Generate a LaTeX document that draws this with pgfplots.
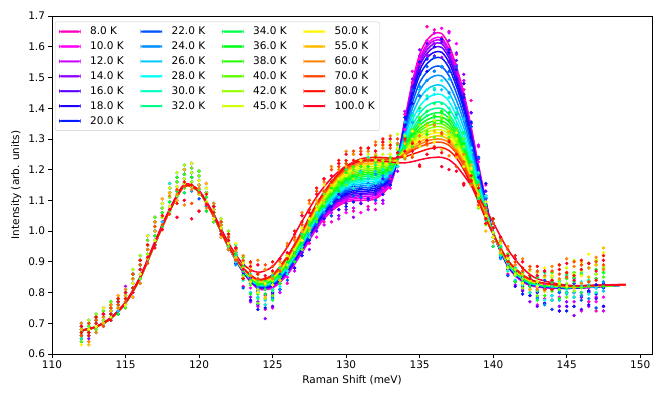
\documentclass[border=0pt]{standalone}
\usepackage{fontspec}
\setmainfont{DejaVu Sans}
\usepackage{pgfplots}
\usepackage{pgfplotstable}
\pgfplotsset{compat=1.18}

% reversed gist_rainbow, one colour per temperature
\definecolor{c8}{rgb}{1,0,0.75}
\definecolor{c10}{rgb}{1,0,0.977}
\definecolor{c12}{rgb}{0.797,0,1}
\definecolor{c14}{rgb}{0.571,0,1}
\definecolor{c16}{rgb}{0.344,0,1}
\definecolor{c18}{rgb}{0.118,0,1}
\definecolor{c20}{rgb}{0,0.109,1}
\definecolor{c22}{rgb}{0,0.335,1}
\definecolor{c24}{rgb}{0,0.562,1}
\definecolor{c26}{rgb}{0,0.788,1}
\definecolor{c28}{rgb}{0,1,0.986}
\definecolor{c30}{rgb}{0,1,0.762}
\definecolor{c32}{rgb}{0,1,0.538}
\definecolor{c34}{rgb}{0,1,0.314}
\definecolor{c36}{rgb}{0,1,0.090}
\definecolor{c38}{rgb}{0.135,1,0}
\definecolor{c40}{rgb}{0.360,1,0}
\definecolor{c42}{rgb}{0.583,1,0}
\definecolor{c45}{rgb}{0.811,1,0}
\definecolor{c50}{rgb}{1,0.964,0}
\definecolor{c55}{rgb}{1,0.739,0}
\definecolor{c60}{rgb}{1,0.514,0}
\definecolor{c70}{rgb}{1,0.288,0}
\definecolor{c80}{rgb}{1,0.063,0}
\definecolor{c100}{rgb}{1,0,0.16}

% fitted curves
\pgfplotstableread{
x T8 T10 T12 T14 T16 T18 T20 T22 T24 T26 T28 T30 T32 T34 T36 T38 T40 T42 T45 T50 T55 T60 T70 T80 T100
112 0.676 0.676 0.676 0.676 0.676 0.676 0.676 0.676 0.676 0.676 0.676 0.676 0.676 0.676 0.676 0.676 0.676 0.676 0.676 0.676 0.676 0.676 0.676 0.676 0.678
113 0.688 0.688 0.688 0.688 0.688 0.688 0.688 0.688 0.688 0.688 0.688 0.688 0.688 0.688 0.688 0.688 0.688 0.688 0.688 0.688 0.688 0.688 0.688 0.688 0.690
114 0.716 0.716 0.716 0.716 0.716 0.716 0.716 0.716 0.716 0.716 0.716 0.716 0.716 0.716 0.716 0.716 0.716 0.716 0.716 0.716 0.716 0.716 0.716 0.716 0.719
115 0.766 0.766 0.766 0.766 0.766 0.766 0.766 0.766 0.766 0.766 0.766 0.766 0.766 0.766 0.766 0.766 0.766 0.766 0.766 0.766 0.766 0.766 0.766 0.766 0.770
116 0.848 0.848 0.848 0.848 0.848 0.848 0.848 0.848 0.848 0.848 0.848 0.848 0.848 0.848 0.848 0.848 0.848 0.848 0.848 0.848 0.848 0.848 0.848 0.848 0.853
117 0.960 0.960 0.960 0.960 0.960 0.960 0.960 0.960 0.960 0.960 0.960 0.960 0.960 0.960 0.960 0.960 0.960 0.960 0.960 0.960 0.960 0.960 0.960 0.960 0.967
118 1.066 1.066 1.066 1.066 1.066 1.066 1.066 1.066 1.066 1.066 1.066 1.066 1.066 1.066 1.066 1.066 1.066 1.066 1.066 1.066 1.066 1.066 1.066 1.066 1.072
119 1.146 1.146 1.146 1.146 1.146 1.146 1.146 1.146 1.146 1.146 1.146 1.146 1.146 1.146 1.146 1.146 1.146 1.146 1.146 1.146 1.146 1.146 1.146 1.146 1.152
120 1.128 1.128 1.128 1.128 1.128 1.128 1.128 1.128 1.128 1.128 1.128 1.128 1.128 1.128 1.128 1.128 1.128 1.128 1.128 1.128 1.128 1.128 1.128 1.128 1.132
121 1.048 1.048 1.048 1.048 1.048 1.048 1.048 1.048 1.048 1.048 1.048 1.048 1.048 1.048 1.048 1.048 1.048 1.048 1.048 1.048 1.048 1.048 1.048 1.048 1.055
122 0.948 0.950 0.950 0.950 0.950 0.950 0.950 0.950 0.950 0.950 0.950 0.950 0.950 0.950 0.950 0.950 0.950 0.950 0.950 0.950 0.950 0.950 0.950 0.950 0.962
123 0.866 0.867 0.867 0.868 0.868 0.869 0.870 0.870 0.871 0.871 0.872 0.873 0.873 0.874 0.875 0.875 0.876 0.876 0.877 0.878 0.878 0.879 0.879 0.880 0.892
124 0.813 0.814 0.816 0.817 0.818 0.820 0.821 0.822 0.823 0.825 0.826 0.827 0.829 0.830 0.831 0.833 0.834 0.835 0.836 0.838 0.839 0.840 0.842 0.843 0.866
125 0.815 0.817 0.819 0.821 0.822 0.824 0.826 0.828 0.830 0.832 0.834 0.836 0.837 0.839 0.841 0.843 0.845 0.847 0.849 0.851 0.852 0.854 0.856 0.858 0.885
126 0.858 0.861 0.863 0.866 0.868 0.871 0.874 0.876 0.879 0.881 0.884 0.887 0.889 0.892 0.895 0.897 0.900 0.902 0.905 0.908 0.910 0.913 0.915 0.918 0.948
127 0.930 0.933 0.936 0.939 0.942 0.945 0.948 0.951 0.954 0.957 0.960 0.963 0.967 0.970 0.973 0.976 0.979 0.982 0.985 0.988 0.991 0.994 0.997 1.000 1.032
128 1.008 1.012 1.015 1.019 1.022 1.026 1.029 1.033 1.037 1.040 1.044 1.047 1.051 1.054 1.058 1.061 1.065 1.069 1.072 1.076 1.079 1.083 1.086 1.090 1.112
129 1.065 1.069 1.073 1.077 1.082 1.086 1.090 1.094 1.098 1.102 1.106 1.110 1.115 1.119 1.123 1.127 1.131 1.135 1.139 1.143 1.148 1.152 1.156 1.160 1.172
130 1.095 1.100 1.105 1.110 1.115 1.120 1.125 1.130 1.135 1.140 1.145 1.150 1.155 1.160 1.165 1.170 1.175 1.180 1.185 1.190 1.195 1.200 1.205 1.210 1.212
131 1.100 1.106 1.112 1.118 1.123 1.129 1.135 1.141 1.147 1.153 1.159 1.165 1.170 1.176 1.182 1.188 1.194 1.200 1.206 1.212 1.217 1.223 1.229 1.235 1.228
132 1.105 1.111 1.117 1.123 1.128 1.134 1.140 1.146 1.152 1.158 1.164 1.170 1.175 1.181 1.187 1.193 1.199 1.205 1.211 1.217 1.222 1.228 1.234 1.240 1.230
133 1.150 1.154 1.158 1.161 1.165 1.169 1.173 1.177 1.181 1.184 1.188 1.192 1.196 1.200 1.204 1.207 1.211 1.215 1.219 1.223 1.227 1.230 1.234 1.238 1.225
133.5 1.235 1.235 1.235 1.235 1.235 1.235 1.235 1.236 1.236 1.236 1.236 1.236 1.236 1.237 1.237 1.237 1.237 1.237 1.237 1.237 1.238 1.238 1.238 1.238 1.222
134 1.365 1.360 1.357 1.354 1.350 1.345 1.338 1.329 1.319 1.309 1.299 1.291 1.284 1.280 1.275 1.271 1.268 1.265 1.261 1.258 1.255 1.251 1.248 1.242 1.222
134.5 1.485 1.476 1.470 1.464 1.457 1.446 1.434 1.417 1.398 1.379 1.360 1.344 1.331 1.322 1.313 1.306 1.299 1.293 1.287 1.280 1.274 1.268 1.262 1.250 1.226
135 1.575 1.562 1.555 1.547 1.537 1.523 1.507 1.483 1.457 1.431 1.406 1.384 1.367 1.355 1.344 1.333 1.325 1.316 1.307 1.299 1.290 1.282 1.274 1.258 1.232
135.5 1.622 1.608 1.600 1.590 1.579 1.564 1.545 1.518 1.490 1.461 1.432 1.408 1.389 1.375 1.362 1.350 1.341 1.331 1.322 1.312 1.302 1.293 1.283 1.266 1.237
136 1.643 1.628 1.620 1.610 1.598 1.582 1.563 1.535 1.505 1.474 1.444 1.419 1.399 1.384 1.371 1.359 1.349 1.339 1.329 1.319 1.309 1.299 1.289 1.271 1.240
136.5 1.643 1.628 1.620 1.610 1.598 1.582 1.563 1.535 1.505 1.474 1.444 1.419 1.399 1.384 1.371 1.359 1.349 1.339 1.329 1.319 1.309 1.299 1.289 1.272 1.240
137 1.605 1.591 1.584 1.574 1.563 1.549 1.531 1.505 1.477 1.450 1.422 1.399 1.380 1.367 1.355 1.343 1.334 1.325 1.316 1.306 1.297 1.288 1.279 1.262 1.232
137.5 1.535 1.523 1.517 1.509 1.499 1.486 1.471 1.449 1.425 1.400 1.376 1.357 1.340 1.329 1.318 1.308 1.300 1.292 1.284 1.276 1.268 1.260 1.253 1.238 1.212
138 1.450 1.440 1.435 1.428 1.420 1.409 1.396 1.377 1.357 1.337 1.317 1.300 1.286 1.276 1.268 1.259 1.253 1.246 1.239 1.232 1.226 1.219 1.212 1.200 1.182
138.5 1.340 1.332 1.328 1.323 1.317 1.309 1.299 1.285 1.269 1.254 1.239 1.226 1.216 1.208 1.201 1.195 1.190 1.185 1.180 1.175 1.169 1.164 1.159 1.150 1.148
139 1.215 1.210 1.208 1.204 1.200 1.195 1.189 1.180 1.170 1.161 1.151 1.143 1.136 1.132 1.127 1.123 1.120 1.117 1.114 1.110 1.107 1.104 1.101 1.095 1.112
139.5 1.100 1.098 1.096 1.095 1.093 1.090 1.087 1.083 1.078 1.073 1.068 1.064 1.061 1.058 1.056 1.054 1.053 1.051 1.049 1.048 1.046 1.045 1.043 1.040 1.070
140 0.995 0.994 0.994 0.994 0.994 0.994 0.994 0.993 0.993 0.993 0.993 0.993 0.993 0.993 0.993 0.993 0.993 0.991 0.991 0.991 0.991 0.991 0.990 0.990 1.028
141 0.885 0.886 0.887 0.888 0.888 0.889 0.890 0.891 0.892 0.893 0.894 0.895 0.895 0.896 0.897 0.898 0.899 0.900 0.901 0.902 0.902 0.903 0.904 0.905 0.940
142 0.835 0.836 0.837 0.838 0.839 0.840 0.841 0.842 0.843 0.844 0.845 0.846 0.847 0.848 0.849 0.850 0.851 0.852 0.853 0.854 0.855 0.856 0.857 0.858 0.880
143 0.818 0.819 0.819 0.820 0.821 0.822 0.822 0.823 0.824 0.825 0.825 0.826 0.827 0.828 0.828 0.829 0.830 0.831 0.831 0.832 0.833 0.834 0.834 0.835 0.845
145 0.813 0.814 0.814 0.814 0.815 0.815 0.815 0.816 0.816 0.817 0.817 0.818 0.818 0.818 0.818 0.819 0.819 0.820 0.820 0.821 0.821 0.821 0.822 0.822 0.824
147 0.818 0.819 0.819 0.819 0.819 0.819 0.819 0.820 0.820 0.820 0.820 0.821 0.821 0.821 0.821 0.821 0.821 0.822 0.822 0.822 0.823 0.823 0.823 0.823 0.824
149 0.825 0.825 0.825 0.825 0.825 0.825 0.825 0.825 0.825 0.825 0.825 0.825 0.825 0.825 0.825 0.825 0.825 0.825 0.825 0.825 0.825 0.825 0.825 0.825 0.827
}\fitdata

% measured points
\pgfplotstableread{
x T8 T10 T12 T14 T16 T18 T20 T22 T24 T26 T28 T30 T32 T34 T36 T38 T40 T42 T45 T50 T55 T60 T70 T80 T100
112.0 0.69 0.66 0.70 0.67 0.65 0.68 0.64 0.69 0.68 0.66 0.67 0.70 0.65 0.69 0.66 0.68 0.64 0.67 0.69 0.63 0.68 0.70 0.66 0.67 0.69
112.5 0.67 0.70 0.68 0.65 0.69 0.71 0.66 0.68 0.70 0.67 0.71 0.66 0.69 0.68 0.67 0.70 0.69 0.66 0.71 0.68 0.63 0.64 0.70 0.67 0.66
113.0 0.71 0.68 0.72 0.71 0.67 0.70 0.72 0.69 0.68 0.73 0.71 0.70 0.69 0.67 0.72 0.71 0.68 0.73 0.70 0.69 0.72 0.67 0.71 0.72 0.70
113.5 0.72 0.75 0.71 0.74 0.73 0.70 0.73 0.75 0.69 0.72 0.70 0.73 0.75 0.71 0.72 0.70 0.74 0.71 0.73 0.75 0.70 0.72 0.69 0.73 0.73
114.0 0.72 0.74 0.75 0.77 0.73 0.76 0.74 0.71 0.75 0.76 0.73 0.72 0.74 0.77 0.75 0.73 0.77 0.76 0.72 0.75 0.74 0.76 0.75 0.71 0.73
114.5 0.79 0.77 0.74 0.75 0.78 0.73 0.77 0.77 0.76 0.74 0.78 0.78 0.75 0.77 0.73 0.76 0.75 0.77 0.75 0.78 0.79 0.75 0.76 0.78 0.77
115.0 0.80 0.77 0.82 0.78 0.76 0.79 0.75 0.80 0.79 0.77 0.78 0.81 0.76 0.80 0.77 0.79 0.75 0.78 0.80 0.76 0.79 0.81 0.77 0.78 0.80
115.5 0.815 0.86 0.83 0.785 0.845 0.875 0.80 0.83 0.86 0.815 0.875 0.80 0.845 0.83 0.815 0.86 0.845 0.80 0.875 0.83 0.785 0.845 0.86 0.815 0.80
116.0 0.89 0.845 0.905 0.89 0.83 0.875 0.905 0.86 0.845 0.92 0.89 0.875 0.86 0.83 0.905 0.89 0.845 0.92 0.875 0.86 0.905 0.83 0.89 0.905 0.875
116.5 0.94 0.985 0.925 0.97 0.955 0.91 0.955 0.985 0.895 0.94 0.91 0.955 0.985 0.925 0.94 0.91 0.97 0.925 0.955 0.985 0.91 0.94 0.895 0.955 0.915
117.0 0.97 1.00 1.015 1.045 0.985 1.03 1.00 0.955 1.015 1.03 0.985 0.97 1.00 1.045 1.015 0.985 1.045 1.03 0.97 1.015 1.00 1.03 1.015 0.955 0.945
117.5 1.105 1.075 1.03 1.045 1.09 1.015 1.075 1.075 1.06 1.03 1.09 1.09 1.045 1.075 1.015 1.06 1.045 1.075 1.045 1.09 1.105 1.005 1.02 1.05 1.005
118.0 1.14 1.095 1.155 1.11 1.08 1.125 1.065 1.14 1.125 1.095 1.11 1.155 1.08 1.14 1.095 1.125 1.065 1.11 1.14 1.08 1.125 1.115 1.055 1.07 1.07
118.5 1.13 1.175 1.145 1.10 1.16 1.19 1.115 1.145 1.175 1.13 1.19 1.115 1.16 1.145 1.13 1.175 1.16 1.115 1.19 1.145 1.10 1.12 1.135 1.09 1.045
119.0 1.185 1.14 1.20 1.185 1.125 1.17 1.20 1.155 1.14 1.215 1.185 1.17 1.155 1.125 1.20 1.185 1.14 1.215 1.17 1.155 1.20 1.085 1.145 1.16 1.10
119.5 1.175 1.22 1.16 1.205 1.19 1.145 1.19 1.22 1.13 1.175 1.145 1.19 1.22 1.16 1.175 1.145 1.205 1.16 1.19 1.22 1.145 1.135 1.09 1.15 1.04
120.0 1.12 1.15 1.165 1.195 1.135 1.18 1.15 1.105 1.165 1.18 1.135 1.12 1.15 1.195 1.165 1.135 1.195 1.18 1.12 1.165 1.15 1.14 1.125 1.065 1.065
120.5 1.155 1.125 1.08 1.095 1.14 1.065 1.125 1.125 1.11 1.08 1.14 1.14 1.095 1.125 1.065 1.11 1.095 1.125 1.095 1.14 1.155 1.075 1.09 1.12 1.085
121.0 1.08 1.05 1.09 1.06 1.04 1.07 1.03 1.08 1.07 1.05 1.06 1.09 1.04 1.08 1.05 1.07 1.03 1.06 1.08 1.04 1.07 1.09 1.05 1.06 1.08
121.5 1.00 1.03 1.01 0.98 1.02 1.04 0.99 1.01 1.03 1.00 1.04 0.99 1.02 1.01 1.00 1.03 1.02 0.99 1.04 1.01 0.98 1.02 1.03 1.00 0.99
122.0 0.98 0.95 0.99 0.98 0.94 0.97 0.99 0.96 0.95 1.00 0.98 0.97 0.96 0.94 0.99 0.98 0.95 1.00 0.97 0.96 0.99 0.94 0.98 0.99 0.97
122.5 0.91 0.94 0.90 0.93 0.925 0.895 0.925 0.945 0.89 0.92 0.90 0.93 0.955 0.915 0.925 0.905 0.945 0.915 0.94 0.96 0.91 0.935 0.905 0.945 0.945
123.0 0.82 0.85 0.865 0.895 0.845 0.89 0.86 0.815 0.885 0.90 0.855 0.84 0.87 0.915 0.885 0.855 0.915 0.90 0.85 0.895 0.88 0.92 0.905 0.845 0.875
123.5 0.845 0.815 0.77 0.785 0.85 0.775 0.835 0.835 0.83 0.80 0.86 0.86 0.825 0.855 0.795 0.84 0.825 0.855 0.835 0.88 0.895 0.855 0.87 0.90 0.885
124.0 0.80 0.755 0.815 0.77 0.76 0.805 0.745 0.82 0.815 0.785 0.80 0.845 0.78 0.84 0.795 0.825 0.765 0.81 0.86 0.80 0.845 0.905 0.845 0.86 0.89
124.5 0.745 0.79 0.76 0.715 0.795 0.825 0.75 0.78 0.82 0.775 0.835 0.76 0.825 0.81 0.795 0.84 0.825 0.78 0.875 0.83 0.785 0.875 0.89 0.845 0.855
125.0 0.795 0.75 0.81 0.795 0.755 0.80 0.83 0.785 0.78 0.855 0.825 0.81 0.805 0.775 0.85 0.835 0.79 0.865 0.84 0.825 0.87 0.845 0.885 0.90 0.87
125.5 0.81 0.84 0.80 0.83 0.84 0.81 0.84 0.86 0.81 0.84 0.82 0.85 0.88 0.84 0.85 0.83 0.87 0.84 0.87 0.89 0.84 0.90 0.87 0.91 0.91
126.0 0.83 0.85 0.86 0.88 0.86 0.89 0.87 0.84 0.89 0.90 0.87 0.86 0.89 0.92 0.90 0.88 0.92 0.91 0.89 0.92 0.91 0.96 0.95 0.91 0.93
126.5 0.92 0.90 0.87 0.88 0.93 0.88 0.92 0.92 0.92 0.90 0.94 0.94 0.92 0.94 0.90 0.93 0.92 0.94 0.94 0.97 0.98 0.97 0.98 1.00 0.99
127.0 0.95 0.92 0.96 0.93 0.93 0.96 0.92 0.97 0.97 0.95 0.96 0.99 0.95 0.99 0.96 0.98 0.94 0.97 1.01 0.97 1.00 1.06 1.02 1.03 1.05
127.5 0.96 0.99 0.97 0.94 1.00 1.02 0.97 0.99 1.02 0.99 1.03 0.98 1.03 1.02 1.01 1.04 1.03 1.00 1.07 1.04 1.01 1.09 1.10 1.07 1.06
128.0 1.01 0.98 1.02 1.01 1.00 1.03 1.05 1.02 1.03 1.08 1.06 1.05 1.05 1.03 1.08 1.07 1.04 1.09 1.08 1.07 1.10 1.09 1.13 1.14 1.12
128.5 1.03 1.06 1.02 1.05 1.07 1.04 1.07 1.09 1.06 1.09 1.07 1.10 1.13 1.09 1.10 1.08 1.12 1.09 1.13 1.15 1.10 1.16 1.13 1.17 1.17
129.0 1.03 1.05 1.06 1.08 1.07 1.10 1.08 1.05 1.12 1.13 1.10 1.09 1.13 1.16 1.14 1.12 1.16 1.15 1.13 1.16 1.15 1.21 1.20 1.16 1.18
129.5 1.09 1.07 1.04 1.05 1.12 1.07 1.11 1.11 1.13 1.11 1.15 1.15 1.15 1.17 1.13 1.16 1.15 1.17 1.17 1.20 1.21 1.20 1.21 1.23 1.22
130.0 1.09 1.06 1.10 1.07 1.09 1.12 1.08 1.13 1.16 1.14 1.15 1.18 1.16 1.20 1.17 1.19 1.15 1.18 1.22 1.18 1.21 1.26 1.22 1.23 1.25
130.5 1.065 1.095 1.075 1.045 1.125 1.145 1.095 1.115 1.18 1.15 1.19 1.14 1.20 1.19 1.18 1.21 1.20 1.17 1.25 1.22 1.19 1.25 1.26 1.23 1.22
131.0 1.09 1.06 1.10 1.09 1.09 1.12 1.14 1.11 1.145 1.195 1.175 1.165 1.19 1.17 1.22 1.21 1.18 1.23 1.23 1.22 1.25 1.22 1.26 1.27 1.25
131.5 1.08 1.11 1.07 1.10 1.135 1.105 1.135 1.155 1.14 1.17 1.15 1.18 1.24 1.20 1.21 1.19 1.23 1.20 1.25 1.27 1.22 1.26 1.23 1.27 1.27
132.0 1.07 1.09 1.10 1.12 1.12 1.15 1.13 1.10 1.185 1.195 1.165 1.155 1.215 1.245 1.225 1.205 1.245 1.235 1.23 1.26 1.25 1.29 1.28 1.24 1.26
132.5 1.14 1.12 1.09 1.10 1.17 1.12 1.16 1.16 1.18 1.16 1.20 1.20 1.21 1.23 1.19 1.22 1.21 1.23 1.25 1.28 1.29 1.27 1.28 1.30 1.29
133.0 1.17 1.14 1.18 1.15 1.16 1.19 1.15 1.20 1.21 1.19 1.20 1.23 1.21 1.25 1.22 1.24 1.20 1.23 1.29 1.25 1.28 1.31 1.27 1.28 1.30
133.5 1.225 1.27 1.24 1.195 1.255 1.285 1.21 1.24 1.27 1.225 1.285 1.21 1.265 1.25 1.235 1.28 1.265 1.22 1.315 1.27 1.225 1.285 1.30 1.255 1.24
134.0 1.38 1.33 1.39 1.37 1.305 1.345 1.37 1.315 1.29 1.355 1.315 1.29 1.27 1.235 1.305 1.285 1.24 1.31 1.26 1.245 1.285 1.235 1.295 1.30 1.26
134.5 1.485 1.52 1.455 1.495 1.47 1.415 1.45 1.46 1.355 1.38 1.33 1.36 1.375 1.305 1.315 1.275 1.33 1.28 1.30 1.325 1.245 1.29 1.24 1.285 1.26
135.0 1.545 1.56 1.57 1.59 1.52 1.55 1.51 1.44 1.47 1.46 1.39 1.355 1.365 1.40 1.36 1.32 1.37 1.345 1.275 1.315 1.29 1.31 1.29 1.21 1.215
135.5 1.665 1.62 1.57 1.575 1.61 1.52 1.56 1.535 1.49 1.43 1.46 1.44 1.375 1.39 1.315 1.35 1.325 1.345 1.305 1.34 1.345 1.28 1.285 1.295 1.25
136.0 1.655 1.61 1.645 1.61 1.57 1.60 1.52 1.565 1.52 1.46 1.445 1.465 1.37 1.415 1.355 1.375 1.305 1.34 1.36 1.29 1.325 1.345 1.275 1.27 1.27
136.5 1.63 1.66 1.62 1.565 1.615 1.625 1.535 1.535 1.535 1.46 1.49 1.39 1.415 1.385 1.355 1.39 1.365 1.31 1.375 1.32 1.265 1.315 1.32 1.255 1.21
137.0 1.65 1.59 1.645 1.62 1.55 1.58 1.59 1.52 1.45 1.495 1.435 1.40 1.365 1.32 1.385 1.36 1.305 1.37 1.315 1.29 1.325 1.245 1.295 1.29 1.20
137.5 1.575 1.61 1.54 1.58 1.555 1.495 1.525 1.535 1.38 1.40 1.345 1.37 1.385 1.315 1.32 1.28 1.33 1.275 1.30 1.32 1.24 1.26 1.21 1.25 1.195
138.0 1.46 1.48 1.49 1.51 1.445 1.48 1.435 1.37 1.37 1.365 1.30 1.27 1.285 1.32 1.285 1.245 1.30 1.275 1.21 1.245 1.225 1.25 1.225 1.155 1.15
138.5 1.425 1.385 1.34 1.35 1.385 1.305 1.355 1.34 1.27 1.225 1.27 1.255 1.20 1.225 1.155 1.195 1.175 1.20 1.165 1.205 1.215 1.15 1.16 1.18 1.165
139.0 1.275 1.225 1.28 1.235 1.20 1.24 1.175 1.24 1.185 1.145 1.15 1.19 1.105 1.16 1.11 1.14 1.075 1.115 1.145 1.08 1.12 1.15 1.085 1.095 1.14
139.5 1.105 1.15 1.115 1.07 1.13 1.155 1.075 1.105 1.11 1.06 1.115 1.035 1.075 1.06 1.04 1.085 1.07 1.02 1.095 1.05 1.00 1.06 1.075 1.025 1.04
140.0 1.01 0.965 1.025 1.01 0.95 0.995 1.025 0.98 0.965 1.04 1.01 0.995 0.98 0.95 1.025 1.01 0.965 1.04 0.995 0.98 1.025 0.965 1.025 1.04 1.01
140.5 0.93 0.96 0.92 0.95 0.945 0.915 0.945 0.965 0.91 0.94 0.92 0.95 0.975 0.935 0.945 0.925 0.965 0.935 0.96 0.98 0.93 0.97 0.94 0.98 0.98
141.0 0.86 0.88 0.89 0.91 0.875 0.905 0.885 0.855 0.90 0.91 0.88 0.87 0.895 0.925 0.905 0.885 0.925 0.915 0.88 0.91 0.90 0.95 0.94 0.90 0.92
141.5 0.875 0.855 0.825 0.835 0.87 0.82 0.86 0.86 0.86 0.84 0.88 0.88 0.855 0.875 0.835 0.865 0.855 0.875 0.86 0.89 0.90 0.89 0.90 0.92 0.91
142.0 0.84 0.81 0.85 0.82 0.805 0.835 0.795 0.845 0.845 0.825 0.835 0.865 0.825 0.865 0.835 0.855 0.815 0.845 0.87 0.83 0.86 0.91 0.87 0.88 0.90
142.5 0.79 0.82 0.80 0.77 0.82 0.84 0.79 0.81 0.84 0.81 0.85 0.80 0.84 0.83 0.82 0.85 0.84 0.81 0.87 0.84 0.81 0.875 0.885 0.855 0.845
143.0 0.805 0.76 0.82 0.805 0.755 0.80 0.83 0.785 0.78 0.855 0.825 0.81 0.805 0.775 0.85 0.835 0.79 0.865 0.835 0.82 0.865 0.81 0.87 0.885 0.855
143.5 0.78 0.825 0.765 0.81 0.81 0.765 0.81 0.84 0.76 0.805 0.775 0.82 0.865 0.805 0.82 0.79 0.85 0.805 0.85 0.88 0.805 0.855 0.81 0.87 0.87
144.0 0.745 0.775 0.79 0.82 0.775 0.82 0.79 0.745 0.82 0.835 0.79 0.775 0.82 0.865 0.835 0.805 0.865 0.85 0.81 0.855 0.84 0.885 0.87 0.81 0.84
144.5 0.815 0.785 0.74 0.755 0.815 0.74 0.80 0.80 0.805 0.775 0.835 0.835 0.81 0.84 0.78 0.825 0.81 0.84 0.83 0.875 0.89 0.845 0.86 0.89 0.875
145.0 0.80 0.755 0.815 0.77 0.755 0.80 0.74 0.815 0.825 0.795 0.81 0.855 0.80 0.86 0.815 0.845 0.785 0.83 0.88 0.82 0.865 0.91 0.85 0.865 0.895
145.5 0.755 0.80 0.77 0.725 0.80 0.83 0.755 0.785 0.845 0.80 0.86 0.785 0.85 0.835 0.82 0.865 0.85 0.805 0.905 0.86 0.815 0.885 0.90 0.855 0.84
146.0 0.785 0.74 0.80 0.785 0.745 0.79 0.82 0.775 0.79 0.865 0.835 0.82 0.83 0.80 0.875 0.86 0.815 0.89 0.87 0.855 0.90 0.83 0.89 0.905 0.875
146.5 0.77 0.815 0.755 0.80 0.805 0.76 0.805 0.835 0.78 0.825 0.795 0.84 0.895 0.835 0.85 0.82 0.88 0.835 0.895 0.925 0.85 0.88 0.835 0.895 0.895
147.0 0.74 0.77 0.785 0.815 0.78 0.825 0.795 0.75 0.845 0.86 0.815 0.80 0.86 0.905 0.875 0.845 0.905 0.89 0.86 0.905 0.89 0.915 0.90 0.84 0.87
147.5 0.815 0.785 0.74 0.755 0.83 0.755 0.815 0.815 0.835 0.805 0.865 0.865 0.85 0.88 0.82 0.865 0.85 0.88 0.885 0.93 0.945 0.875 0.89 0.92 0.905
}\scatdata

\begin{document}
\begin{tikzpicture}
\path[use as bounding box] (0,0) rectangle (664pt,399pt);
\begin{axis}[
    at={(52pt,45pt)}, anchor=south west,
    scale only axis, width=600pt, height=338pt,
    xmin=110, xmax=150.8, ymin=0.6, ymax=1.7,
    xtick={110,115,120,125,130,135,140,145,150},
    ytick={0.6,0.7,0.8,0.9,1.0,1.1,1.2,1.3,1.4,1.5,1.6,1.7},
    xlabel={Raman Shift (meV)},
    ylabel={Intensity (arb. units)},
    tick align=outside, xtick pos=bottom, ytick pos=left,
    major tick length=3.5pt,
    tick style={black, line width=0.8pt},
    axis line style={black, line width=0.8pt},
    /pgf/number format/assume math mode=true,
    yticklabel style={/pgf/number format/.cd, fixed, fixed zerofill, precision=1},
    tick label style={font=\fontsize{10.5}{12}\selectfont},
    label style={font=\fontsize{10.5}{12}\selectfont},
    legend columns=4,
    legend cell align=left,
    legend image code/.code={\fill[#1] (0pt,-0.85pt) rectangle (21pt,0.85pt);},
    legend style={at={(0.005,0.983)}, anchor=north west,
        draw=black!20, rounded corners=2pt, fill=white,
        font=\fontsize{10.5}{12}\selectfont,
        nodes={inner sep=1pt}, row sep=3.6pt, inner xsep=4pt, inner ysep=4pt,
        /tikz/every odd column/.append style={column sep=8.5pt},
        /tikz/every even column/.append style={column sep=16pt}},
]
\pgfplotsinvokeforeach{8,10,12,14,16,18,20,22,24,26,28,30,32,34,36,38,40,42,45,50,55,60,70,80,100}{
    \addplot[only marks, mark=*, mark size=1.5pt, color=c#1, mark options={draw=none}, forget plot]
        table[x=x, y=T#1]{\scatdata};
    \addplot[color=c#1, line width=1.5pt, smooth, forget plot]
        table[x=x, y=T#1]{\fitdata};
}
% legend, row by row so the columns read 8-20, 22-32, 34-45, 50-100
\addlegendimage{color=c8}\addlegendentry{8.0 K}
\addlegendimage{color=c22}\addlegendentry{22.0 K}
\addlegendimage{color=c34}\addlegendentry{34.0 K}
\addlegendimage{color=c50}\addlegendentry{50.0 K}
\addlegendimage{color=c10}\addlegendentry{10.0 K}
\addlegendimage{color=c24}\addlegendentry{24.0 K}
\addlegendimage{color=c36}\addlegendentry{36.0 K}
\addlegendimage{color=c55}\addlegendentry{55.0 K}
\addlegendimage{color=c12}\addlegendentry{12.0 K}
\addlegendimage{color=c26}\addlegendentry{26.0 K}
\addlegendimage{color=c38}\addlegendentry{38.0 K}
\addlegendimage{color=c60}\addlegendentry{60.0 K}
\addlegendimage{color=c14}\addlegendentry{14.0 K}
\addlegendimage{color=c28}\addlegendentry{28.0 K}
\addlegendimage{color=c40}\addlegendentry{40.0 K}
\addlegendimage{color=c70}\addlegendentry{70.0 K}
\addlegendimage{color=c16}\addlegendentry{16.0 K}
\addlegendimage{color=c30}\addlegendentry{30.0 K}
\addlegendimage{color=c42}\addlegendentry{42.0 K}
\addlegendimage{color=c80}\addlegendentry{80.0 K}
\addlegendimage{color=c18}\addlegendentry{18.0 K}
\addlegendimage{color=c32}\addlegendentry{32.0 K}
\addlegendimage{color=c45}\addlegendentry{45.0 K}
\addlegendimage{color=c100}\addlegendentry{100.0 K}
\addlegendimage{color=c20}\addlegendentry{20.0 K}
\end{axis}
\end{tikzpicture}
\end{document}
